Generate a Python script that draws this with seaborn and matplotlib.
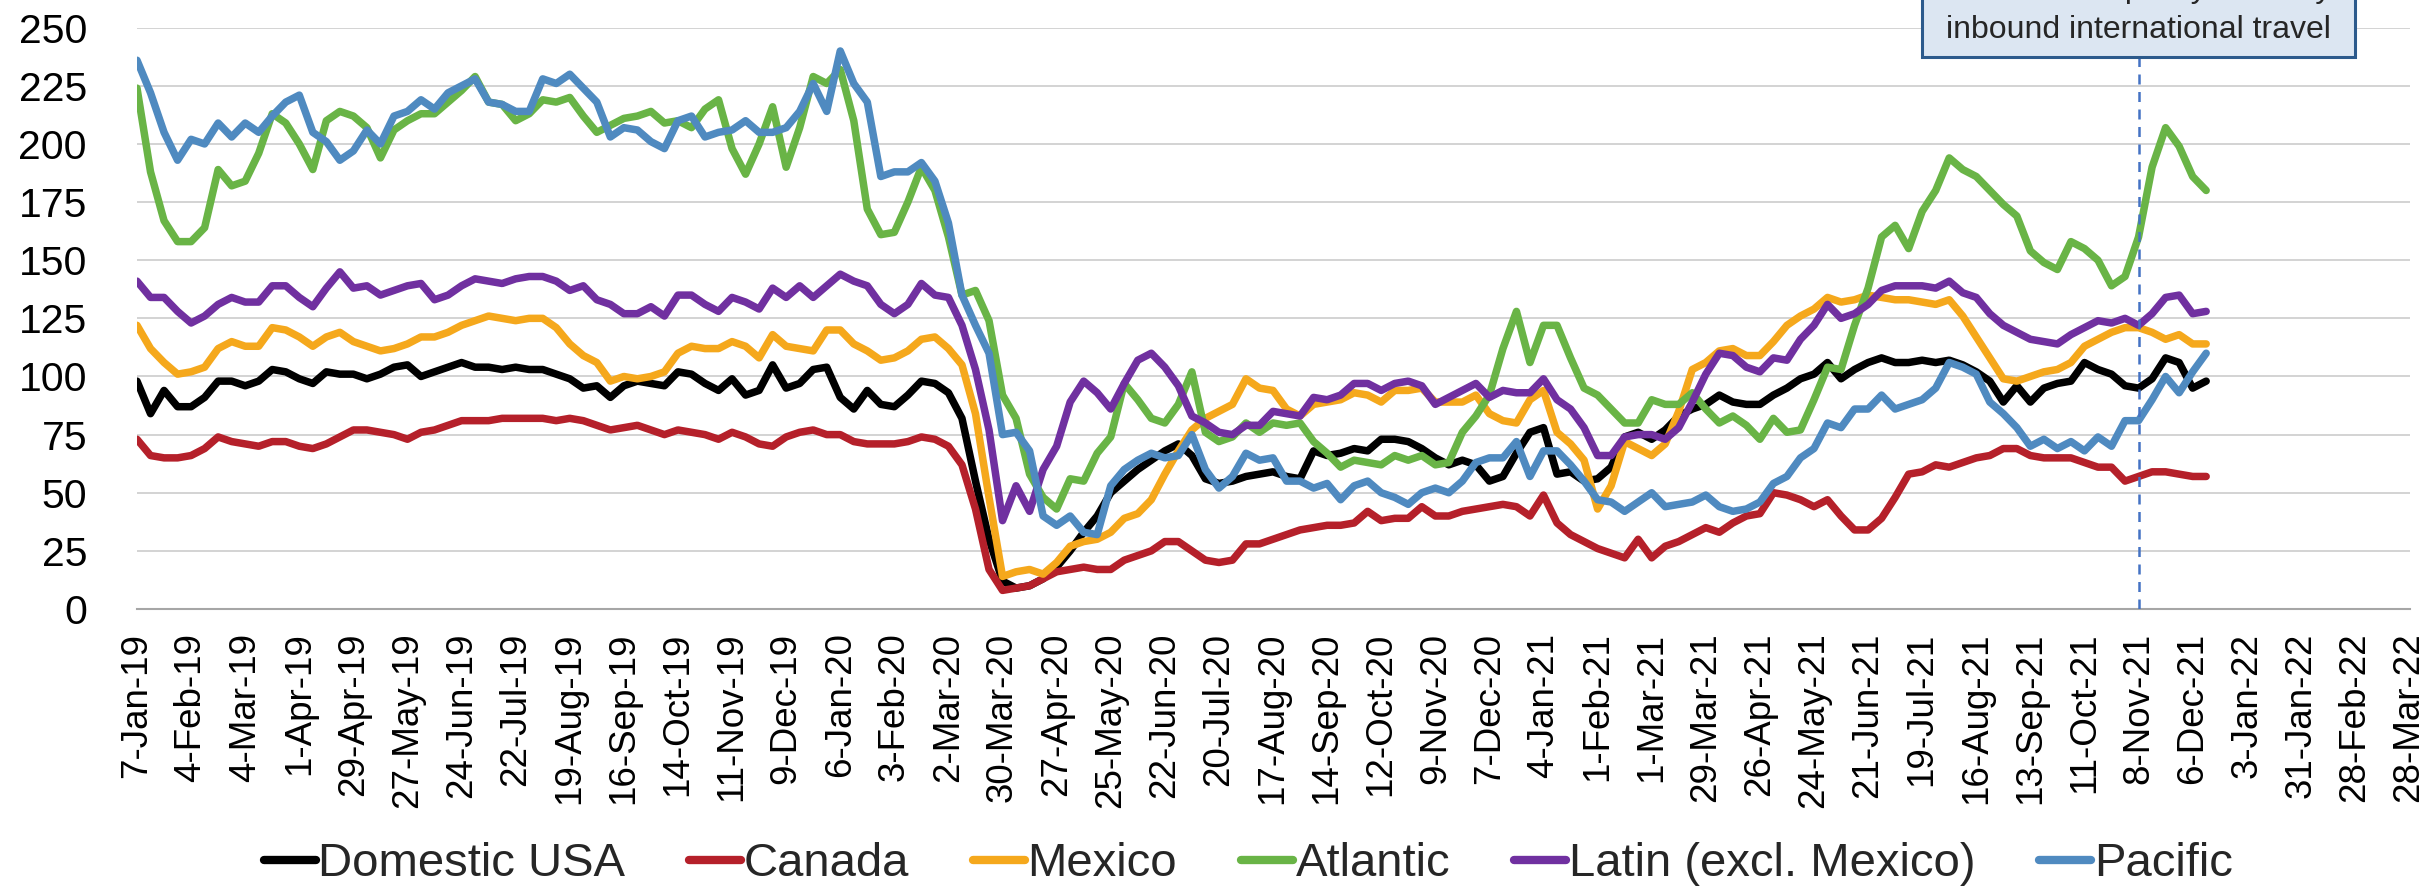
import numpy as np
import pandas as pd
import matplotlib
matplotlib.use("Agg")
import matplotlib.pyplot as plt
import matplotlib.dates as mdates
from matplotlib.lines import Line2D
from matplotlib.patches import Rectangle
import seaborn as sns

# ---------------- data (weekly readings, starting 7-Jan-2019) ----------------
start_date = "2019-01-07"
regions = ["Domestic USA", "Canada", "Mexico", "Atlantic", "Latin (excl. Mexico)", "Pacific"]
colors = ["#000000", "#B5202A", "#F5A81C", "#69B446", "#7030A0", "#4F8AC0"]

domestic = [98, 84, 94, 87, 87, 91, 98, 98, 96, 98, 103, 102, 99, 97, 102, 101, 101, 99, 101, 104,
            105, 100, 102, 104, 106, 104, 104, 103, 104, 103, 103, 101, 99, 95, 96, 91, 96, 98, 97, 96,
            102, 101, 97, 94, 99, 92, 94, 105, 95, 97, 103, 104, 91, 86, 94, 88, 87, 92, 98, 97,
            93, 82, 55, 30, 12, 9, 10, 13, 18, 25, 33, 40, 50, 55, 60, 64, 68, 71, 66, 56,
            54, 55, 57, 58, 59, 57, 56, 68, 66, 67, 69, 68, 73, 73, 72, 69, 65, 62, 64, 62,
            55, 57, 67, 76, 78, 58, 59, 55, 56, 61, 74, 76, 73, 77, 83, 86, 88, 92, 89, 88,
            88, 92, 95, 99, 101, 106, 99, 103, 106, 108, 106, 106, 107, 106, 107, 105, 102, 98, 89, 96,
            89, 95, 97, 98, 106, 103, 101, 96, 95, 99, 108, 106, 95, 98]
canada = [73, 66, 65, 65, 66, 69, 74, 72, 71, 70, 72, 72, 70, 69, 71, 74, 77, 77, 76, 75,
          73, 76, 77, 79, 81, 81, 81, 82, 82, 82, 82, 81, 82, 81, 79, 77, 78, 79, 77, 75,
          77, 76, 75, 73, 76, 74, 71, 70, 74, 76, 77, 75, 75, 72, 71, 71, 71, 72, 74, 73,
          70, 62, 43, 17, 8, 9, 10, 13, 16, 17, 18, 17, 17, 21, 23, 25, 29, 29, 25, 21,
          20, 21, 28, 28, 30, 32, 34, 35, 36, 36, 37, 42, 38, 39, 39, 44, 40, 40, 42, 43,
          44, 45, 44, 40, 49, 37, 32, 29, 26, 24, 22, 30, 22, 27, 29, 32, 35, 33, 37, 40,
          41, 50, 49, 47, 44, 47, 40, 34, 34, 39, 48, 58, 59, 62, 61, 63, 65, 66, 69, 69,
          66, 65, 65, 65, 63, 61, 61, 55, 57, 59, 59, 58, 57, 57]
mexico = [122, 112, 106, 101, 102, 104, 112, 115, 113, 113, 121, 120, 117, 113, 117, 119, 115, 113, 111, 112,
          114, 117, 117, 119, 122, 124, 126, 125, 124, 125, 125, 121, 114, 109, 106, 98, 100, 99, 100, 102,
          110, 113, 112, 112, 115, 113, 108, 118, 113, 112, 111, 120, 120, 114, 111, 107, 108, 111, 116, 117,
          112, 105, 84, 48, 14, 16, 17, 15, 20, 27, 29, 30, 33, 39, 41, 47, 58, 68, 77, 82,
          85, 88, 99, 95, 94, 86, 83, 88, 89, 90, 93, 92, 89, 94, 94, 95, 89, 89, 89, 92,
          84, 81, 80, 90, 94, 76, 71, 64, 43, 53, 72, 69, 66, 71, 85, 103, 106, 111, 112, 109,
          109, 115, 122, 126, 129, 134, 132, 133, 135, 134, 133, 133, 132, 131, 133, 126, 117, 108, 99, 98,
          100, 102, 103, 106, 113, 116, 119, 121, 121, 119, 116, 118, 114, 114]
atlantic = [224, 188, 167, 158, 158, 164, 189, 182, 184, 196, 213, 209, 200, 189, 210, 214, 212, 207, 194, 206,
            210, 213, 213, 218, 223, 229, 218, 217, 210, 213, 219, 218, 220, 212, 205, 208, 211, 212, 214, 209,
            210, 207, 215, 219, 198, 187, 200, 216, 190, 207, 229, 226, 232, 210, 172, 161, 162, 175, 190, 180,
            160, 135, 137, 124, 92, 82, 58, 48, 43, 56, 55, 67, 74, 97, 90, 82, 80, 88, 102, 76,
            72, 74, 80, 76, 80, 79, 80, 72, 67, 61, 64, 63, 62, 66, 64, 66, 62, 63, 76, 83,
            92, 112, 128, 106, 122, 122, 108, 95, 92, 86, 80, 80, 90, 88, 88, 93, 86, 80, 83, 79,
            73, 82, 76, 77, 90, 104, 103, 122, 138, 160, 165, 155, 171, 180, 194, 189, 186, 180, 174, 169,
            154, 149, 146, 158, 155, 150, 139, 143, 160, 190, 207, 199, 186, 180]
latin = [141, 134, 134, 128, 123, 126, 131, 134, 132, 132, 139, 139, 134, 130, 138, 145, 138, 139, 135, 137,
         139, 140, 133, 135, 139, 142, 141, 140, 142, 143, 143, 141, 137, 139, 133, 131, 127, 127, 130, 126,
         135, 135, 131, 128, 134, 132, 129, 138, 134, 139, 134, 139, 144, 141, 139, 131, 127, 131, 140, 135,
         134, 122, 103, 77, 38, 53, 42, 60, 70, 89, 98, 93, 86, 97, 107, 110, 104, 96, 83, 80,
         76, 75, 79, 79, 85, 84, 83, 91, 90, 92, 97, 97, 94, 97, 98, 96, 88, 91, 94, 97,
         91, 94, 93, 93, 99, 90, 86, 78, 66, 66, 74, 75, 75, 73, 78, 89, 101, 110, 109, 104,
         102, 108, 107, 116, 122, 131, 125, 127, 131, 137, 139, 139, 139, 138, 141, 136, 134, 127, 122, 119,
         116, 115, 114, 118, 121, 124, 123, 125, 122, 127, 134, 135, 127, 128]
pacific = [236, 222, 205, 193, 202, 200, 209, 203, 209, 205, 212, 218, 221, 205, 201, 193, 197, 206, 200, 212,
           214, 219, 215, 222, 225, 228, 218, 217, 214, 214, 228, 226, 230, 224, 218, 203, 207, 206, 201, 198,
           210, 212, 203, 205, 206, 210, 205, 205, 207, 214, 226, 214, 240, 226, 218, 186, 188, 188, 192, 184,
           166, 135, 122, 110, 75, 76, 68, 40, 36, 40, 33, 32, 53, 60, 64, 67, 65, 66, 75, 60,
           52, 57, 67, 64, 65, 55, 55, 52, 54, 47, 53, 55, 50, 48, 45, 50, 52, 50, 55, 63,
           65, 65, 72, 57, 68, 68, 62, 55, 47, 46, 42, 46, 50, 44, 45, 46, 49, 44, 42, 43,
           46, 54, 57, 65, 69, 80, 78, 86, 86, 92, 86, 88, 90, 95, 106, 104, 101, 89, 84, 78,
           70, 73, 69, 72, 68, 74, 70, 81, 81, 90, 100, 93, 102, 110]

series = [domestic, canada, mexico, atlantic, latin, pacific]
axis_start, axis_end = "2019-01-07", "2022-03-28"
policy_date = "2021-11-08"
annot_lines = ["Date of new policy on entry", "inbound international travel"]
yticks = list(range(0, 251, 25))

# ---------------- build frame ----------------
dates = pd.date_range(start_date, periods=len(domestic), freq="7D")
frames = []
for name, vals in zip(regions, series):
    frames.append(pd.DataFrame({"date": dates[:len(vals)], "value": vals, "region": name}))
df = pd.concat(frames, ignore_index=True)

# ---------------- figure ----------------
sns.set_theme(style="white")
plt.rcParams["font.family"] = ["Liberation Sans", "DejaVu Sans"]

W, H = 2433, 894
fig = plt.figure(figsize=(W / 100, H / 100), dpi=100)
ax = fig.add_axes([137 / W, 1 - 609 / H, (2410 - 137) / W, (609 - 27.7) / H])

sns.lineplot(data=df, x="date", y="value", hue="region", hue_order=regions,
             palette=dict(zip(regions, colors)), linewidth=5.4, legend=False,
             errorbar=None, ax=ax)

ax.set_xlim(pd.Timestamp(axis_start), pd.Timestamp(axis_end) + pd.Timedelta(days=0.5))
ax.set_ylim(0, 250)
ax.set_xlabel("")
ax.set_ylabel("")

# y axis
ax.set_yticks(yticks)
ax.yaxis.grid(True, color="#C8C8C8", linewidth=1.1)
ax.xaxis.grid(False)
ax.set_axisbelow(True)
ax.tick_params(axis="y", length=0, pad=36, labelsize=29.5, labelcolor="black")

# x axis: labels every 4 weeks, minor every 2 weeks
major = pd.date_range(axis_start, axis_end, freq="28D")
minor = pd.date_range(axis_start, axis_end, freq="14D")
ax.set_xticks(major)
ax.set_xticks(minor, minor=True)
ax.xaxis.set_major_formatter(mdates.DateFormatter("%-d-%b-%y"))
ax.tick_params(axis="x", which="major", length=8, width=1.1, color="#A0A0A0",
               pad=9, labelsize=26.5, labelrotation=90, labelcolor="black")
ax.tick_params(axis="x", which="minor", length=5, width=1.1, color="#A0A0A0")

for s in ["top", "right", "left"]:
    ax.spines[s].set_visible(False)
ax.spines["bottom"].set_color("#A6A6A6")
ax.spines["bottom"].set_linewidth(1.5)

# policy date marker
ax.axvline(pd.Timestamp(policy_date), ymin=0, ymax=0.95, color="#4472C4",
           linewidth=1.8, linestyle=(0, (4, 3)), zorder=10)

# annotation box (top line cut off by the figure edge)
box_l, box_r, box_b = 1922, 2355, 56.5
fig.patches.append(Rectangle((box_l / W, 1 - box_b / H), (box_r - box_l) / W, 0.2,
                             transform=fig.transFigure, facecolor="#DCE6F2",
                             edgecolor="#2C5A8C", linewidth=2.2, zorder=5))
cx = (box_l + box_r) / 2 / W
fig.text(cx, 1 + 3 / H, annot_lines[0], ha="center", va="baseline", fontsize=23, zorder=6)
fig.text(cx, 1 - 38 / H, annot_lines[1], ha="center", va="baseline", fontsize=23, zorder=6)

# legend
handles = [Line2D([0], [0], color=c, linewidth=6) for c in colors]
fig.legend(handles, regions, loc="center", bbox_to_anchor=(0.513, 0.033), ncol=6,
           frameon=False, fontsize=34, handlelength=1.1, handletextpad=0.05,
           columnspacing=1.36, borderpad=0, borderaxespad=0)

fig.savefig("out.png", dpi=100)
